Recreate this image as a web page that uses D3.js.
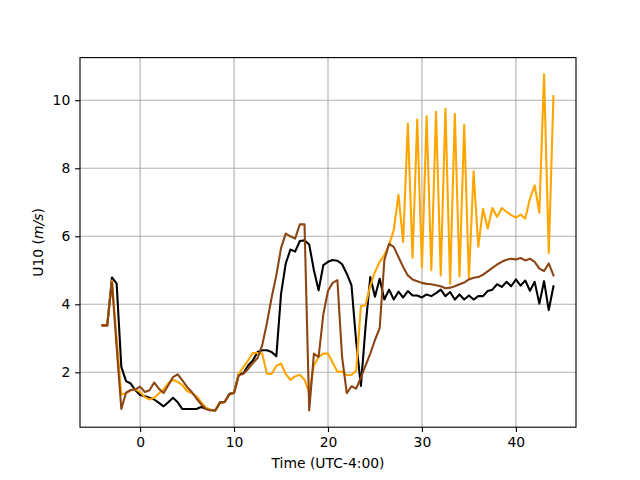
<!DOCTYPE html>
<html>
<head>
<meta charset="utf-8">
<script src="https://cdn.jsdelivr.net/npm/d3@7"></script>
<style>
  body { margin: 0; background: #fff; }
  svg { display: block; }
  text { font-family: "DejaVu Sans", sans-serif; }
</style>
</head>
<body>
<svg id="chart" width="640" height="480"></svg>
<script>
// time in hours (UTC-4:00), half hourly
var times = [-4, -3.5, -3, -2.5, -2, -1.5, -1, -0.5, 0, 0.5, 1, 1.5, 2, 2.5, 3, 3.5, 4, 4.5, 5, 5.5,
  6, 6.5, 7, 7.5, 8, 8.5, 9, 9.5, 10, 10.5, 11, 11.5, 12, 12.5, 13, 13.5, 14, 14.5, 15, 15.5,
  16, 16.5, 17, 17.5, 18, 18.5, 19, 19.5, 20, 20.5, 21, 21.5, 22, 22.5, 23, 23.5, 24, 24.5, 25, 25.5,
  26, 26.5, 27, 27.5, 28, 28.5, 29, 29.5, 30, 30.5, 31, 31.5, 32, 32.5, 33, 33.5, 34, 34.5, 35, 35.5,
  36, 36.5, 37, 37.5, 38, 38.5, 39, 39.5, 40, 40.5, 41, 41.5, 42, 42.5, 43, 43.5, 44];

var blackU10 = [3.38, 3.38, 4.79, 4.61, 2.16, 1.74, 1.67, 1.47, 1.33, 1.3, 1.25, 1.2, 1.1, 1.0, 1.12, 1.25, 1.12, 0.92, 0.92, 0.92,
  0.92, 0.98, 0.93, 0.9, 0.88, 1.12, 1.13, 1.37, 1.4, 1.95, 1.97, 2.2, 2.35, 2.6, 2.65, 2.65, 2.6, 2.47, 4.3, 5.2,
  5.61, 5.55, 5.86, 5.88, 5.76, 5.0, 4.41, 5.15, 5.25, 5.3, 5.28, 5.18, 4.9, 4.56, 2.9, 1.6, 3.35, 4.8, 4.22, 4.75,
  4.14, 4.43, 4.14, 4.37, 4.2, 4.39, 4.26, 4.26, 4.2, 4.29, 4.24, 4.33, 4.43, 4.24, 4.36, 4.14, 4.29, 4.14, 4.26, 4.14,
  4.24, 4.24, 4.39, 4.43, 4.59, 4.51, 4.66, 4.53, 4.73, 4.55, 4.7, 4.4, 4.66, 4.02, 4.68, 3.83, 4.53];

var orangeU10 = [3.38, 3.38, 4.7, 3.0, 1.35, 1.38, 1.47, 1.5, 1.42, 1.27, 1.2, 1.25, 1.38, 1.5, 1.68, 1.78, 1.72, 1.62, 1.45, 1.38,
  1.3, 1.12, 0.96, 0.9, 0.88, 1.1, 1.13, 1.35, 1.4, 1.96, 2.15, 2.35, 2.57, 2.57, 2.55, 1.96, 1.95, 2.19, 2.26, 1.95,
  1.78, 1.88, 1.93, 1.78, 1.4, 2.2, 2.45, 2.55, 2.55, 2.28, 2.02, 2.02, 1.92, 1.92, 2.05, 3.94, 3.97, 4.55, 4.95, 5.25,
  5.45, 5.74, 6.18, 7.22, 5.83, 9.31, 5.37, 9.43, 5.08, 9.53, 5.0, 9.66, 4.85, 9.75, 4.6, 9.6, 4.82, 9.28, 4.75, 7.91,
  5.69, 6.81, 6.23, 6.83, 6.57, 6.83, 6.72, 6.62, 6.55, 6.64, 6.52, 7.11, 7.5, 6.69, 10.76, 5.51, 10.12];

var brownU10 = [3.38, 3.38, 4.65, 2.75, 0.92, 1.4, 1.48, 1.5, 1.58, 1.42, 1.47, 1.7, 1.52, 1.39, 1.62, 1.86, 1.94, 1.76, 1.57, 1.42,
  1.23, 1.06, 0.92, 0.88, 0.88, 1.1, 1.13, 1.35, 1.39, 1.91, 1.96, 2.1, 2.27, 2.42, 2.8, 3.45, 4.2, 4.85, 5.65, 6.08,
  6.0, 5.93, 6.35, 6.35, 0.88, 2.55, 2.45, 3.7, 4.4, 4.63, 4.71, 2.45, 1.39, 1.59, 1.52, 1.85, 2.2, 2.55, 2.95, 3.3,
  5.3, 5.78, 5.69, 5.39, 5.1, 4.85, 4.73, 4.68, 4.63, 4.6, 4.59, 4.56, 4.53, 4.47, 4.49, 4.53, 4.59, 4.64, 4.73, 4.78,
  4.8, 4.87, 4.97, 5.07, 5.17, 5.25, 5.31, 5.34, 5.32, 5.36, 5.29, 5.34, 5.25, 5.05, 4.98, 5.2, 4.85];

var xTicks = [0, 10, 20, 30, 40];
var yTicks = [2, 4, 6, 8, 10];

var seriesList = [
  {name: "black", values: blackU10, color: "black"},
  {name: "orange", values: orangeU10, color: "orange"},
  {name: "brown", values: brownU10, color: "saddlebrown"}
];

var PT = 100 / 72; // matplotlib points to px at 100 dpi

var svg = d3.select("#chart");
var margin = {left: 80, right: 64, top: 57.6, bottom: 52.8};
var width = 640 - margin.left - margin.right,
    height = 480 - margin.top - margin.bottom;

// matplotlib style 5% padding
function padded(ext) {
  var d = ext[1] - ext[0];
  return [ext[0] - 0.05 * d, ext[1] + 0.05 * d];
}
var allVals = blackU10.concat(orangeU10, brownU10);

var x = d3.scaleLinear().domain(padded(d3.extent(times))).range([0, width]);
var y = d3.scaleLinear().domain(padded(d3.extent(allVals))).range([height, 0]);

var g = svg.append("g").attr("transform", "translate(" + margin.left + "," + margin.top + ")");

// grid
g.append("g").selectAll("line").data(xTicks).enter().append("line")
  .attr("x1", function(d) { return x(d); }).attr("x2", function(d) { return x(d); })
  .attr("y1", 0).attr("y2", height)
  .attr("stroke", "#b0b0b0").attr("stroke-width", 0.8 * PT);
g.append("g").selectAll("line").data(yTicks).enter().append("line")
  .attr("y1", function(d) { return y(d); }).attr("y2", function(d) { return y(d); })
  .attr("x1", 0).attr("x2", width)
  .attr("stroke", "#b0b0b0").attr("stroke-width", 0.8 * PT);

var line = d3.line()
  .x(function(d, i) { return x(times[i]); })
  .y(function(d) { return y(d); });

g.append("g").selectAll("path").data(seriesList).enter().append("path")
  .attr("d", function(s) { return line(s.values); })
  .attr("fill", "none")
  .attr("stroke", function(s) { return s.color; })
  .attr("stroke-width", 1.5 * PT)
  .attr("stroke-linejoin", "round")
  .attr("stroke-linecap", "square");

// axes
var xAxis = d3.axisBottom(x).tickValues(xTicks).tickSize(3.5 * PT).tickPadding(3.5 * PT).tickFormat(d3.format("d"));
var yAxis = d3.axisLeft(y).tickValues(yTicks).tickSize(3.5 * PT).tickPadding(3.5 * PT).tickFormat(d3.format("d"));

var gx = g.append("g").attr("transform", "translate(0," + height + ")").call(xAxis);
var gy = g.append("g").call(yAxis);

[gx, gy].forEach(function(a) {
  a.select(".domain").remove();
  a.selectAll(".tick line").attr("stroke", "black").attr("stroke-width", 0.8 * PT);
  a.selectAll(".tick text").attr("font-size", "13.9px").attr("fill", "black")
    .attr("font-family", "DejaVu Sans, sans-serif");
});

// frame
g.append("rect").attr("width", width).attr("height", height)
  .attr("fill", "none").attr("stroke", "black").attr("stroke-width", 0.8 * PT);

// labels
svg.append("text")
  .attr("x", margin.left + width / 2).attr("y", 468)
  .attr("text-anchor", "middle").attr("font-size", "13.9px")
  .text("Time (UTC-4:00)");

var yl = svg.append("text")
  .attr("transform", "translate(43," + (margin.top + height / 2) + ") rotate(-90)")
  .attr("text-anchor", "middle").attr("font-size", "13.9px");
yl.append("tspan").text("U10 (");
yl.append("tspan").attr("font-style", "italic").text("m/s");
yl.append("tspan").text(")");
</script>
</body>
</html>
